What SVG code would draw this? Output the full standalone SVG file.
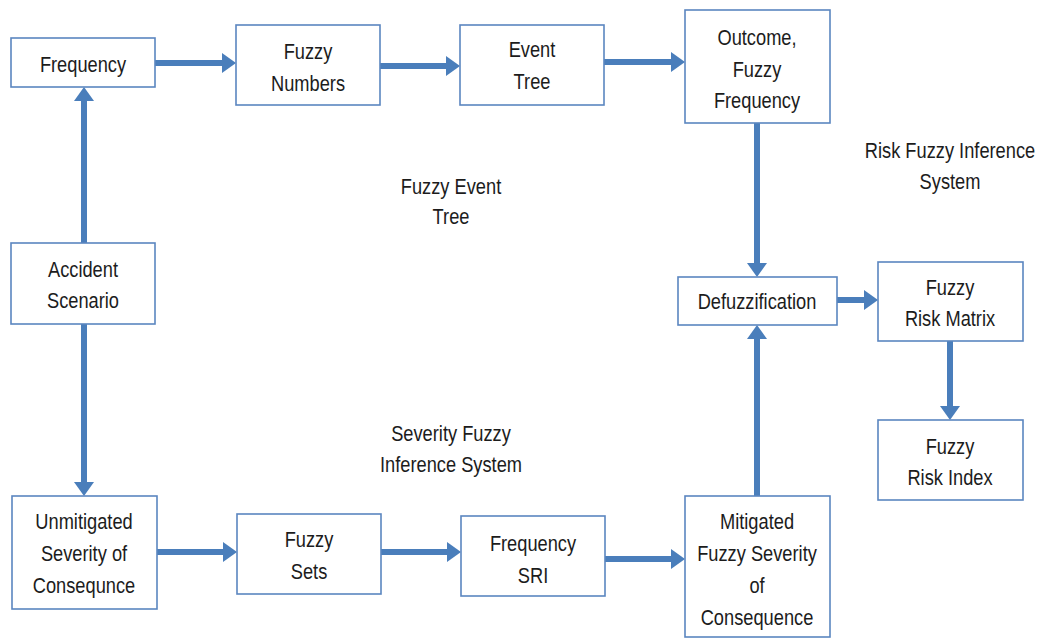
<svg xmlns="http://www.w3.org/2000/svg" width="1039" height="641" viewBox="0 0 1039 641">
  <style>
    .box { fill: #ffffff; stroke: #5b86c0; stroke-width: 1.6; }
    .lbl { font-family: "Liberation Sans", Arial, sans-serif; font-size: 22px; fill: #1c1c1c; text-anchor: middle; dominant-baseline: central; }
    .conn { stroke: #4a7ebb; stroke-width: 6; fill: none; marker-end: url(#head); }
  </style>
  <defs>
    <marker id="head" markerUnits="userSpaceOnUse" markerWidth="14" markerHeight="20" refX="1" refY="10" orient="auto">
      <path d="M0,0 L14,10 L0,20 Z" fill="#4a7ebb"/>
    </marker>
  </defs>
  <rect width="1039" height="641" fill="#ffffff"/>

  <!-- connectors -->
  <g id="connectors">
    <path class="conn" d="M155,63 H223"/>
    <path class="conn" d="M380,66 H447"/>
    <path class="conn" d="M604,62 H672"/>
    <path class="conn" d="M84,243 V100"/>
    <path class="conn" d="M84,324 V483"/>
    <path class="conn" d="M757,123 V264"/>
    <path class="conn" d="M757,496 V338"/>
    <path class="conn" d="M837,300 H865"/>
    <path class="conn" d="M950,341 V407"/>
    <path class="conn" d="M157,552 H224"/>
    <path class="conn" d="M381,552 H448"/>
    <path class="conn" d="M605,559 H672"/>
  </g>

  <!-- nodes (labels narrowed horizontally with a scale transform) -->
  <g id="frequency">
    <rect class="box" x="11" y="38" width="144" height="49"/>
    <text class="lbl" transform="translate(83,0) scale(0.83,1)"><tspan x="0" y="64">Frequency</tspan></text>
  </g>
  <g id="fuzzy-numbers">
    <rect class="box" x="236" y="25" width="144" height="80"/>
    <text class="lbl" transform="translate(308,0) scale(0.83,1)"><tspan x="0" y="51">Fuzzy</tspan><tspan x="0" y="83">Numbers</tspan></text>
  </g>
  <g id="event-tree">
    <rect class="box" x="460" y="25" width="144" height="80"/>
    <text class="lbl" transform="translate(532,0) scale(0.83,1)"><tspan x="0" y="49">Event</tspan><tspan x="0" y="81">Tree</tspan></text>
  </g>
  <g id="outcome">
    <rect class="box" x="685" y="10" width="145" height="113"/>
    <text class="lbl" transform="translate(757,0) scale(0.83,1)"><tspan x="0" y="37">Outcome,</tspan><tspan x="0" y="69">Fuzzy</tspan><tspan x="0" y="100">Frequency</tspan></text>
  </g>
  <g id="accident-scenario">
    <rect class="box" x="11" y="243" width="144" height="81"/>
    <text class="lbl" transform="translate(83,0) scale(0.83,1)"><tspan x="0" y="269">Accident</tspan><tspan x="0" y="300">Scenario</tspan></text>
  </g>
  <g id="unmitigated">
    <rect class="box" x="12" y="496" width="145" height="113"/>
    <text class="lbl" transform="translate(84,0) scale(0.83,1)"><tspan x="0" y="521">Unmitigated</tspan><tspan x="0" y="553">Severity of</tspan><tspan x="0" y="585">Consequnce</tspan></text>
  </g>
  <g id="fuzzy-sets">
    <rect class="box" x="237" y="514" width="144" height="80"/>
    <text class="lbl" transform="translate(309,0) scale(0.83,1)"><tspan x="0" y="539">Fuzzy</tspan><tspan x="0" y="571">Sets</tspan></text>
  </g>
  <g id="frequency-sri">
    <rect class="box" x="461" y="516" width="144" height="80"/>
    <text class="lbl" transform="translate(533,0) scale(0.83,1)"><tspan x="0" y="543">Frequency</tspan><tspan x="0" y="575">SRI</tspan></text>
  </g>
  <g id="mitigated">
    <rect class="box" x="685" y="496" width="145" height="141"/>
    <text class="lbl" transform="translate(757,0) scale(0.83,1)"><tspan x="0" y="521">Mitigated</tspan><tspan x="0" y="553">Fuzzy Severity</tspan><tspan x="0" y="585">of</tspan><tspan x="0" y="617">Consequence</tspan></text>
  </g>
  <g id="defuzzification">
    <rect class="box" x="678" y="277" width="159" height="48"/>
    <text class="lbl" transform="translate(757,0) scale(0.83,1)"><tspan x="0" y="301">Defuzzification</tspan></text>
  </g>
  <g id="risk-matrix">
    <rect class="box" x="878" y="262" width="145" height="79"/>
    <text class="lbl" transform="translate(950,0) scale(0.83,1)"><tspan x="0" y="287">Fuzzy</tspan><tspan x="0" y="318">Risk Matrix</tspan></text>
  </g>
  <g id="risk-index">
    <rect class="box" x="878" y="420" width="145" height="80"/>
    <text class="lbl" transform="translate(950,0) scale(0.83,1)"><tspan x="0" y="446">Fuzzy</tspan><tspan x="0" y="477">Risk Index</tspan></text>
  </g>

  <!-- stage captions -->
  <g id="captions">
    <text class="lbl" transform="translate(451,0) scale(0.83,1)"><tspan x="0" y="186">Fuzzy Event</tspan><tspan x="0" y="216">Tree</tspan></text>
    <text class="lbl" transform="translate(451,0) scale(0.83,1)"><tspan x="0" y="433">Severity Fuzzy</tspan><tspan x="0" y="464">Inference System</tspan></text>
    <text class="lbl" transform="translate(950,0) scale(0.83,1)"><tspan x="0" y="150">Risk Fuzzy Inference</tspan><tspan x="0" y="181">System</tspan></text>
  </g>
</svg>
